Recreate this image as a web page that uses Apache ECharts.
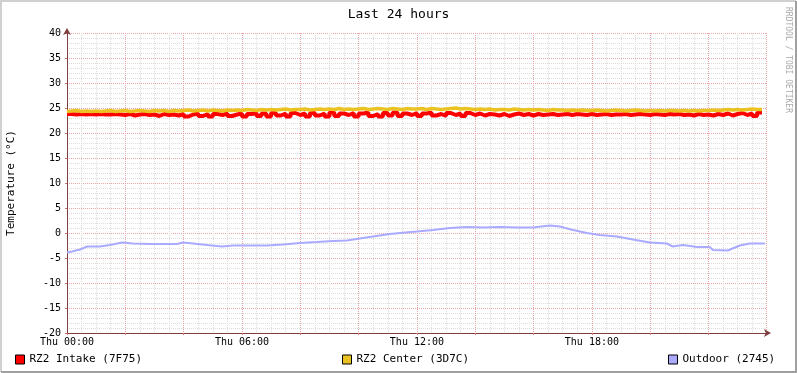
<!DOCTYPE html>
<html>
<head>
<meta charset="utf-8">
<script src="https://cdn.jsdelivr.net/npm/echarts@6/dist/echarts.min.js"></script>
<style>
  html, body { margin: 0; padding: 0; background: #fff; }
  #chart { width: 797px; height: 373px; }
</style>
</head>
<body>
<div id="chart"></div>
<script>
// samples every 10 minutes, starting Thu 00:00
const stepMinutes = 10

const intake = [
  23.8, 23.8, 23.7, 23.8, 23.7, 23.8,
  23.7, 23.8, 23.7, 23.7, 23.8, 23.7,
  23.6, 23.8, 23.5, 23.7, 23.8, 23.6,
  23.7, 23.4, 23.8, 23.6, 23.7, 23.5,
  23.8, 23.3, 23.7, 23.9, 23.4, 23.8,
  23.3, 23.8, 23.6, 23.9, 23.4, 23.7,
  23.9, 23.3, 23.8, 24.0, 23.4, 23.9,
  23.3, 24.0, 23.5, 23.9, 23.3, 24.0,
  23.6, 23.9, 23.3, 24.0, 23.5, 23.9,
  23.3, 24.1, 23.4, 23.9, 23.6, 24.0,
  23.3, 23.9, 24.1, 23.4, 23.8, 23.3,
  24.0, 23.5, 24.1, 23.4, 23.9, 23.6,
  24.0, 23.4, 23.9, 24.1, 23.5, 23.8,
  23.4, 24.0, 23.6, 23.9, 23.4, 24.0,
  23.6, 23.9, 23.5, 23.8, 23.7, 23.5,
  23.8, 23.4, 23.7, 23.9, 23.6, 23.8,
  23.5, 23.8, 23.6, 23.7, 23.8, 23.6,
  23.7, 23.8, 23.6, 23.8, 23.7, 23.6,
  23.8, 23.6, 23.7, 23.8, 23.6, 23.7,
  23.7, 23.8, 23.6, 23.7, 23.8, 23.7,
  23.6, 23.8, 23.7, 23.6, 23.8, 23.7,
  23.8, 23.6, 23.7, 23.5, 23.8, 23.6,
  23.7, 23.5, 23.8, 23.6, 23.9, 23.5,
  23.8, 24.0, 23.6, 23.9, 23.4, 24.1
]

const center = [
  24.3, 24.4, 24.5, 24.3, 24.4, 24.3,
  24.4, 24.3, 24.4, 24.5, 24.3, 24.4,
  24.5, 24.3, 24.4, 24.5, 24.4, 24.3,
  24.5, 24.4, 24.5, 24.3, 24.5, 24.4,
  24.5, 24.6, 24.4, 24.5, 24.6, 24.4,
  24.6, 24.5, 24.4, 24.6, 24.5, 24.6,
  24.5, 24.7, 24.6, 24.5, 24.7, 24.6,
  24.7, 24.6, 24.7, 24.8, 24.6, 24.7,
  24.7, 24.8, 24.6, 24.7, 24.8, 24.7,
  24.8, 24.7, 24.9, 24.7, 24.8, 24.7,
  24.8, 24.9, 24.7, 24.8, 24.9, 24.8,
  24.7, 24.9, 24.8, 24.7, 24.9, 24.8,
  24.8, 24.9, 24.7, 24.9, 24.8, 24.7,
  24.8, 24.9, 25.0, 24.8, 24.9, 24.8,
  24.7, 24.8, 24.7, 24.8, 24.6, 24.7,
  24.7, 24.6, 24.8, 24.7, 24.6, 24.7,
  24.6, 24.7, 24.6, 24.5, 24.7, 24.6,
  24.6, 24.5, 24.6, 24.5, 24.6, 24.5,
  24.5, 24.6, 24.5, 24.4, 24.5, 24.6,
  24.5, 24.4, 24.5, 24.6, 24.5, 24.4,
  24.5, 24.4, 24.5, 24.4, 24.5, 24.5,
  24.4, 24.5, 24.4, 24.5, 24.4, 24.5,
  24.5, 24.6, 24.5, 24.6, 24.7, 24.6,
  24.7, 24.6, 24.7, 24.8, 24.7, 24.7
]

// outdoor: hour of day / value
const outdoorHours = [
  0, 0.17, 0.45, 0.69, 1.13, 1.47, 1.89, 2.26, 2.85, 3.43, 3.77, 3.98,
  4.32, 4.8, 5.31, 5.69, 6.27, 6.86, 7.4, 7.99, 8.57, 9.12, 9.6, 10.04,
  10.49, 11.07, 11.42, 12.0, 12.55, 13.13, 13.71, 14.26, 14.84, 15.43,
  15.98, 16.56, 16.9, 17.35, 17.83, 18.27, 18.86, 19.4, 19.99, 20.57,
  20.77, 21.12, 21.6, 22.04, 22.15, 22.66, 23.07, 23.41, 23.93
]
const outdoorValues = [
  -3.9, -3.7, -3.3, -2.7, -2.7, -2.4, -1.9, -2.1, -2.2, -2.2, -2.2, -1.9,
  -2.1, -2.4, -2.7, -2.5, -2.5, -2.5, -2.3, -2.0, -1.8, -1.6, -1.5, -1.1,
  -0.7, -0.2, 0.0, 0.3, 0.6, 1.0, 1.2, 1.1, 1.2, 1.1,
  1.1, 1.5, 1.3, 0.6, 0.0, -0.4, -0.7, -1.3, -1.9, -2.1,
  -2.7, -2.4, -2.8, -2.8, -3.4, -3.5, -2.5, -2.1, -2.1
]

const legendNames = ['RZ2 Intake (7F75)', 'RZ2 Center (3D7C)', 'Outdoor (2745)']
const colors = ['#ff0000', '#eac222', '#aaaaff']

const mono = 'DejaVu Sans Mono'
const toPairs = arr => arr.map((v, i) => [i * stepMinutes / 60, v])
const pad = n => (n < 10 ? '0' : '') + n

const chart = echarts.init(document.getElementById('chart'))
const option = {
  backgroundColor: '#fff',
  animation: false,
  title: {
    text: 'Last 24 hours',
    left: 'center',
    top: 3,
    textStyle: { fontFamily: mono, fontSize: 13, fontWeight: 'normal', color: '#000' }
  },
  grid: { left: 67, right: 31, top: 33, bottom: 40, outerBoundsMode: 'none' },
  legend: [0, 1, 2].map(i => ({
    data: [legendNames[i]],
    left: [10, 337, 663][i],
    top: 349,
    itemWidth: 9,
    itemHeight: 9,
    itemGap: 6,
    icon: 'rect',
    itemStyle: { borderColor: '#000', borderWidth: 1 },
    textStyle: { fontFamily: mono, fontSize: 11, color: '#000' }
  })),
  xAxis: {
    type: 'value',
    min: 0,
    max: 23.97,
    interval: 2,
    axisLine: {
      onZero: false,
      lineStyle: { color: '#7f3f3f' },
      symbol: ['none', 'arrow'],
      symbolSize: [6, 7],
      symbolOffset: [0, 5]
    },
    axisTick: { show: true, length: 2, lineStyle: { color: '#e07070' } },
    minorTick: { show: false, splitNumber: 4 },
    axisLabel: {
      fontFamily: mono,
      fontSize: 10,
      color: '#000',
      margin: 4,
      showMaxLabel: false,
      formatter: v => (v % 6 === 0 ? 'Thu ' + pad(v) + ':00' : '')
    },
    splitLine: { show: true, lineStyle: { color: '#eaa6a6', type: [1, 1] } },
    minorSplitLine: { show: true, lineStyle: { color: '#dcdcdc', type: [1, 1] } }
  },
  yAxis: {
    type: 'value',
    min: -20,
    max: 40,
    interval: 5,
    minorSplitLine: { show: true, lineStyle: { color: '#dcdcdc', type: [1, 1] } },
    minorTick: { show: false, splitNumber: 5 },
    name: 'Temperature (°C)',
    nameLocation: 'middle',
    nameGap: 50,
    nameTextStyle: { fontFamily: mono, fontSize: 11, color: '#000' },
    axisLine: {
      show: true,
      lineStyle: { color: '#7f3f3f' },
      symbol: ['none', 'arrow'],
      symbolSize: [6, 7],
      symbolOffset: [0, 5]
    },
    axisTick: { show: true, length: 2, lineStyle: { color: '#e07070' } },
    axisLabel: { fontFamily: mono, fontSize: 10, color: '#000', margin: 6 },
    splitLine: { show: true, lineStyle: { color: '#eaa6a6', type: [1, 1] } }
  },
  graphic: [
    {
      type: 'text',
      x: 788,
      y: 7,
      rotation: -Math.PI / 2,
      style: {
        text: 'RRDTOOL / TOBI OETIKER',
        fontFamily: mono,
        fontSize: 8,
        fill: '#aaaaaa',
        textAlign: 'left',
        textVerticalAlign: 'middle'
      }
    },
    {
      type: 'polyline',
      shape: { points: [[1, 372], [1, 1], [796, 1]] },
      style: { stroke: '#d0d0d0', lineWidth: 2, fill: null }
    },
    {
      type: 'polyline',
      shape: { points: [[1, 372], [796, 372], [796, 1]] },
      style: { stroke: '#a0a0a0', lineWidth: 2, fill: null }
    }
  ],
  series: [
    {
      name: legendNames[0],
      type: 'line',
      step: 'start',
      showSymbol: false,
      data: toPairs(intake),
      lineStyle: { color: colors[0], width: 4 },
      itemStyle: { color: colors[0] }
    },
    {
      name: legendNames[1],
      type: 'line',
      step: 'start',
      showSymbol: false,
      data: toPairs(center),
      lineStyle: { color: colors[1], width: 3.5 },
      itemStyle: { color: colors[1] }
    },
    {
      name: legendNames[2],
      type: 'line',
      showSymbol: false,
      data: outdoorHours.map((h, i) => [h, outdoorValues[i]]),
      lineStyle: { color: colors[2], width: 2 },
      itemStyle: { color: colors[2] }
    }
  ]
}
chart.setOption(option)
</script>
</body>
</html>
